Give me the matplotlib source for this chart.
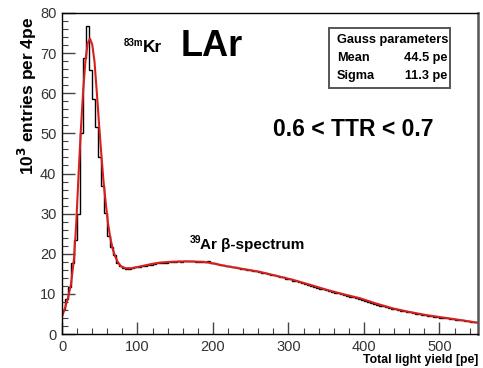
import numpy as np
import matplotlib
matplotlib.use("Agg")
import matplotlib.pyplot as plt
from matplotlib.patches import Rectangle
from matplotlib.ticker import MultipleLocator

plt.rcParams['font.family'] = ['Liberation Sans', 'DejaVu Sans']

# Histogram: counts (10^3 entries) in 4 pe bins starting at 0 pe
bin_width = 4
counts = [
    6.0, 8.6, 11.8, 17.6, 23.4, 30.0, 50.0, 68.8, 76.8, 65.8,
    58.6, 51.7, 44.2, 36.8, 30.2, 24.3, 21.6, 19.6, 17.6, 16.9,
    16.5, 16.3, 16.3, 16.5, 16.6, 16.8, 16.9, 17.0, 17.2, 17.3,
    17.5, 17.6, 17.7, 17.8, 17.8, 17.9, 18.0, 18.0, 18.1, 18.0,
    18.1, 18.1, 18.2, 18.1, 18.0, 18.0, 18.0, 17.9, 18.2, 17.8,
    17.6, 17.5, 17.3, 17.1, 17.0, 16.9, 16.7, 16.6, 16.5, 16.3,
    16.2, 16.0, 15.9, 15.8, 15.6, 15.5, 15.3, 15.1, 15.0, 14.8,
    14.6, 14.4, 14.2, 14.1, 13.8, 13.6, 13.2, 13.1, 12.9, 12.6,
    12.4, 12.2, 12.0, 11.7, 11.5, 11.3, 11.1, 10.9, 10.7, 10.5,
    10.3, 10.1, 9.9, 9.7, 9.5, 9.3, 9.1, 8.9, 8.7, 8.5,
    8.2, 8.0, 7.8, 7.5, 7.3, 7.1, 6.9, 6.7, 6.5, 6.3,
    6.2, 6.0, 5.8, 5.7, 5.5, 5.4, 5.2, 5.1, 4.9, 4.8,
    4.7, 4.6, 4.4, 4.3, 4.2, 4.1, 4.0, 3.9, 3.8, 3.7,
    3.6, 3.5, 3.4, 3.3, 3.2, 3.1, 3.0, 2.9,
]

# Fit curve (Gauss peak + 39Ar beta spectrum), sampled points
fit_pe = [0, 4, 8, 12, 16, 19, 22, 25, 28, 31, 34, 37, 40, 43, 46, 49, 52,
          55, 58, 61, 64, 67, 70, 74, 78, 84, 92, 100, 110, 120, 130, 145,
          163, 187, 200, 218, 240, 262, 284, 306, 328, 351, 373, 395, 416,
          438, 460, 483, 505, 527, 551]
fit_val = [4.3, 6.5, 9.0, 12.5, 19.0, 28.0, 40.0, 51.0, 60.5, 68.0, 72.5,
           73.6, 72.2, 68.0, 60.5, 52.5, 45.0, 38.0, 32.5, 27.5, 24.0, 21.3,
           19.5, 17.9, 16.9, 16.4, 16.4, 16.7, 17.1, 17.5, 17.8, 18.0, 18.1,
           18.0, 17.6, 16.9, 16.2, 15.5, 14.5, 13.5, 12.3, 11.0, 9.9, 8.9,
           7.6, 6.4, 5.5, 4.7, 4.1, 3.5, 2.8]

x_ticks = [0, 100, 200, 300, 400, 500]
y_ticks = [0, 10, 20, 30, 40, 50, 60, 70, 80]

W, H = 483, 368
fig = plt.figure(figsize=(W / 100, H / 100), dpi=100)
ax = fig.add_axes([62 / W, 34 / H, 416 / W, 321 / H])

edges = np.arange(len(counts) + 1) * bin_width
ax.stairs(counts, edges, color='black', lw=1.0, baseline=None)
ax.plot(fit_pe, fit_val, color='#d62020', lw=1.5)

ax.set_xlim(0, 551)
ax.set_ylim(0, 80)
ax.set_xticks(x_ticks)
ax.set_yticks(y_ticks)
ax.xaxis.set_minor_locator(MultipleLocator(20))
ax.yaxis.set_minor_locator(MultipleLocator(2))
ax.tick_params(which='both', direction='in', top=False, right=False,
               labelsize=10.5, labelcolor='#333333', color='#444444')
ax.tick_params(which='major', length=9, width=1.0, pad=4)
ax.tick_params(which='minor', length=4.5, width=0.8)
for s in ax.spines.values():
    s.set_linewidth(1.0)
ax.spines['right'].set_linewidth(1.8)
ax.spines['right'].set_color('#555555')


def fx(px):
    return px / W


def fy(py):
    return 1 - py / H


# axis titles
fig.text(fx(27), fy(96), r'10$^{\mathbf{3}}$ entries per 4pe', rotation=90,
         ha='center', va='center', fontsize=12.5, fontweight='bold')
fig.text(fx(478), fy(360), 'Total light yield [pe]', ha='right',
         va='center', fontsize=8.8, fontweight='bold')

# labels on the plot
fig.text(fx(181), fy(46), 'LAr', ha='left', va='center', fontsize=26,
         fontweight='bold')
fig.text(fx(124), fy(43), '83m', ha='left', va='center', fontsize=7,
         fontweight='bold')
fig.text(fx(143), fy(48), 'Kr', ha='left', va='center', fontsize=12.5,
         fontweight='bold')
fig.text(fx(273), fy(130), '0.6 < TTR < 0.7', ha='left', va='center',
         fontsize=16.5, fontweight='bold')
fig.text(fx(190), fy(240), '39', ha='left', va='center', fontsize=7.5,
         fontweight='bold')
fig.text(fx(200), fy(245), 'Ar \u03b2-spectrum', ha='left', va='center',
         fontsize=11, fontweight='bold')

# fit parameter box
fig.patches.append(Rectangle((fx(329), fy(88)), (450 - 329) / W, 60 / H,
                             transform=fig.transFigure, fill=True,
                             facecolor='white', edgecolor='#555555', lw=1.4))
fig.text(fx(337), fy(40), 'Gauss parameters', ha='left', va='center',
         fontsize=9.2, fontweight='bold')
fig.text(fx(337), fy(58), 'Mean', ha='left', va='center', fontsize=9.2,
         fontweight='bold')
fig.text(fx(447), fy(58), '44.5 pe', ha='right', va='center', fontsize=9.2,
         fontweight='bold')
fig.text(fx(337), fy(76), 'Sigma', ha='left', va='center', fontsize=9.2,
         fontweight='bold')
fig.text(fx(447), fy(76), '11.3 pe', ha='right', va='center', fontsize=9.2,
         fontweight='bold')

fig.savefig('out.png', dpi=100)
